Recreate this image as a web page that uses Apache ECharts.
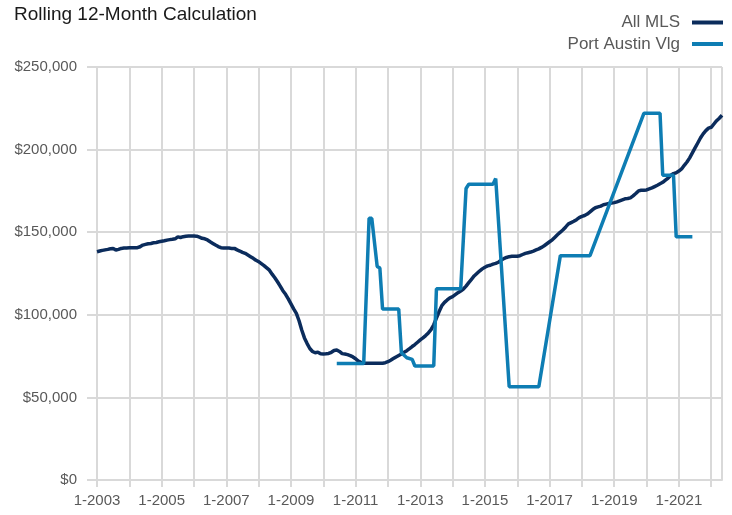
<!DOCTYPE html>
<html>
<head>
<meta charset="utf-8">
<script src="https://cdn.jsdelivr.net/npm/echarts@6/dist/echarts.min.js"></script>
<style>
  html, body { margin: 0; padding: 0; background: #fff; }
  #chart { width: 732px; height: 515px; }
</style>
</head>
<body>
<div id="chart"></div>
<script>
// ---- Data ----
const titleText = 'Rolling 12-Month Calculation';
const seriesNames = ['All MLS', 'Port Austin Vlg'];
const startYear = 2003;          // first month = January 2003
const lastMonthLabel = '2022-05'; // last month on the axis

// All MLS: monthly values, Jan 2003 .. May 2022
const allMls2003 = [138200, 138600, 139000, 139300, 139600, 140000, 140200, 139200, 139600, 140200, 140400, 140500];
const allMls2004 = [140600, 140600, 140600, 140600, 141200, 142200, 142600, 143000, 143200, 143600, 143800, 144200];
const allMls2005 = [144500, 144800, 145200, 145500, 145700, 146000, 147200, 146800, 147300, 147600, 147700, 147700];
const allMls2006 = [147700, 147600, 147000, 146300, 146000, 145300, 144200, 143200, 142200, 141300, 140600, 140500];
const allMls2007 = [140500, 140400, 140200, 140200, 139300, 138600, 137800, 137200, 136200, 135200, 134200, 133000];
const allMls2008 = [132200, 131000, 129800, 128400, 127000, 124600, 122400, 120000, 117400, 114600, 112400, 109600];
const allMls2009 = [106600, 103600, 100900, 96400, 90800, 86000, 82600, 79600, 77800, 77000, 77400, 76400];
const allMls2010 = [76300, 76400, 76600, 77300, 78400, 78700, 77800, 76500, 76300, 75900, 75300, 74500];
const allMls2011 = [73400, 72000, 71200, 70700, 70600, 70600, 70600, 70600, 70600, 70600, 70700, 71000];
const allMls2012 = [71600, 72500, 73500, 74500, 75400, 76300, 77300, 78300, 79500, 80800, 82000, 83400];
const allMls2013 = [84800, 86000, 87400, 89000, 91000, 94000, 98000, 102000, 105500, 107500, 109000, 110300];
const allMls2014 = [111000, 112200, 113400, 114400, 115600, 117400, 119500, 121500, 123500, 125000, 126500, 127800];
const allMls2015 = [128800, 129600, 130000, 130700, 131100, 131800, 133000, 134000, 134700, 135200, 135400, 135400];
const allMls2016 = [135500, 135800, 136500, 137200, 137600, 138000, 138600, 139300, 139900, 140800, 141800, 143000];
const allMls2017 = [144200, 145400, 147000, 148600, 150000, 151500, 153200, 155000, 155800, 156600, 157600, 158800];
const allMls2018 = [159600, 160100, 161000, 162300, 163700, 164800, 165300, 165800, 166600, 167000, 167400, 167600];
const allMls2019 = [167900, 168400, 169000, 169600, 170200, 170400, 170800, 172000, 173400, 175000, 175400, 175400];
const allMls2020 = [175600, 176200, 176800, 177600, 178400, 179300, 180200, 181500, 182800, 184500, 185500, 186000];
const allMls2021 = [187000, 188300, 190500, 192500, 195000, 198000, 201000, 204000, 207000, 209500, 211500, 213000];
const allMls2022 = [213500, 215500, 217500, 219000, 220800];

// Port Austin Vlg: [month, value] (months without a value are bridged by the line)
const portAustinPoints = [
  ['2010-06', 70500], ['2011-04', 70500], ['2011-06', 158400], ['2011-07', 158400],
  ['2011-09', 129300], ['2011-10', 128300], ['2011-11', 103500], ['2012-05', 103500],
  ['2012-06', 77000], ['2012-08', 74000], ['2012-10', 73000], ['2012-11', 69000],
  ['2013-06', 69000], ['2013-07', 115700], ['2014-04', 115700], ['2014-06', 176500],
  ['2014-07', 179000], ['2015-04', 179000], ['2015-05', 182500], ['2015-10', 56500],
  ['2016-09', 56500], ['2017-05', 135800], ['2018-04', 135800], ['2019-12', 222000],
  ['2020-06', 222000], ['2020-07', 184500], ['2020-11', 184500], ['2020-12', 147200],
  ['2021-06', 147200]
];

// Tick settings
const yTicks = [0, 50000, 100000, 150000, 200000, 250000];
const xLabelEveryYears = 2;

// ---- Build ----
function monthIndex(s) {
  const [y, m] = s.split('-').map(Number);
  return (y - startYear) * 12 + (m - 1);
}
const allMlsValues = [].concat(allMls2003, allMls2004, allMls2005, allMls2006, allMls2007,
  allMls2008, allMls2009, allMls2010, allMls2011, allMls2012, allMls2013, allMls2014,
  allMls2015, allMls2016, allMls2017, allMls2018, allMls2019, allMls2020, allMls2021, allMls2022);
const allMlsData = allMlsValues.map((v, i) => [i, v]);
const portData = portAustinPoints.map(p => [monthIndex(p[0]), p[1]]);
const xMax = monthIndex(lastMonthLabel);

const FONT = '"Liberation Sans", Arial, sans-serif';
const GRID_COLOR = '#d9d9d9';
const TEXT_COLOR = '#595959';

const chart = echarts.init(document.getElementById('chart'), null, { renderer: 'canvas' });
chart.setOption({
  animation: false,
  backgroundColor: '#ffffff',
  textStyle: { fontFamily: FONT },
  title: {
    text: titleText,
    left: 9,
    top: 0,
    textStyle: { fontFamily: FONT, fontSize: 19, fontWeight: 'normal', color: '#1a1a1a' }
  },
  legend: {
    data: seriesNames,
    orient: 'vertical',
    right: 4,
    top: 9,
    align: 'right',
    icon: 'rect',
    itemWidth: 31,
    itemHeight: 4,
    itemGap: 4.5,
    textStyle: { fontFamily: FONT, fontSize: 17, color: TEXT_COLOR, padding: [0, 7, 0, 0] }
  },
  grid: { left: 97, right: 10, top: 67, bottom: 35 },
  xAxis: {
    type: 'value',
    min: 0,
    max: xMax,
    interval: 12,
    axisLine: { show: true, lineStyle: { color: GRID_COLOR, width: 2 } },
    axisTick: { show: true, length: 7, lineStyle: { color: GRID_COLOR, width: 2 } },
    splitLine: { show: true, lineStyle: { color: GRID_COLOR, width: 2 } },
    axisLabel: {
      margin: 13,
      color: TEXT_COLOR,
      fontFamily: FONT,
      fontSize: 15,
      showMaxLabel: false,
      formatter: v => (v % (12 * xLabelEveryYears) === 0 ? '1-' + (startYear + v / 12) : '')
    }
  },
  yAxis: {
    type: 'value',
    min: yTicks[0],
    max: yTicks[yTicks.length - 1],
    interval: yTicks[1] - yTicks[0],
    axisLine: { show: true, lineStyle: { color: GRID_COLOR, width: 2 } },
    axisTick: { show: true, length: 10, lineStyle: { color: GRID_COLOR, width: 2 } },
    splitLine: { show: true, lineStyle: { color: GRID_COLOR, width: 2 } },
    axisLabel: {
      margin: 20,
      color: TEXT_COLOR,
      fontFamily: FONT,
      fontSize: 15,
      formatter: v => '$' + v.toLocaleString('en-US')
    }
  },
  series: [
    {
      name: seriesNames[0],
      type: 'line',
      data: allMlsData,
      showSymbol: false,
      color: '#0b2c5c',
      lineStyle: { width: 3.5, color: '#0b2c5c' },
      z: 2
    },
    {
      name: seriesNames[1],
      type: 'line',
      data: portData,
      showSymbol: false,
      color: '#0e7db3',
      lineStyle: { width: 3.5, color: '#0e7db3' },
      z: 3
    }
  ]
});
</script>
</body>
</html>
